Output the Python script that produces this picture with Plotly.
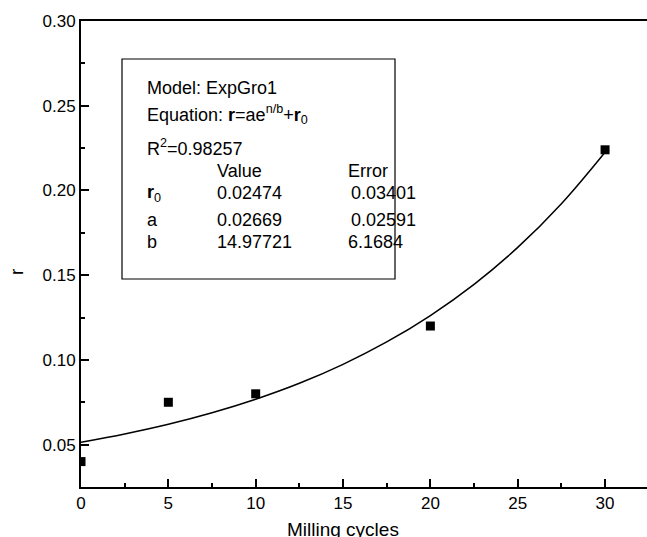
import plotly.graph_objects as go

# Measured data
cycles = [0, 5, 10, 20, 30]
r_values = [0.040, 0.075, 0.080, 0.120, 0.224]

# Fitted curve (ExpGro1)
fit_cycles = [0, 2.5, 5, 7.5, 10, 12.5, 15, 17.5, 20, 22.5, 25, 27.5, 30]
fit_r = [0.0514, 0.0563, 0.0620, 0.0688, 0.0768, 0.0862, 0.0974,
         0.1106, 0.1262, 0.1446, 0.1664, 0.1922, 0.2226]

x_ticks = [0, 5, 10, 15, 20, 25, 30]
y_ticks = [0.05, 0.10, 0.15, 0.20, 0.25, 0.30]

W, H = 647, 537
L, R, T, B = 81, 0, 21, 50
PW, PH = W - L - R, H - T - B

def px(x):
    return (x - L) / PW

def py(y):
    return (H - B - y) / PH

FONT = "Liberation Sans, Arial, Helvetica, sans-serif"

fig = go.Figure()
fig.add_trace(go.Scatter(x=fit_cycles, y=fit_r, mode="lines",
                         line=dict(color="black", width=1.5, shape="spline"),
                         showlegend=False, hoverinfo="skip"))
fig.add_trace(go.Scatter(x=cycles, y=r_values, mode="markers",
                         marker=dict(symbol="square", size=9, color="black"),
                         showlegend=False))

axis_common = dict(showline=True, linewidth=2, linecolor="black",
                   ticks="inside", ticklen=8, tickwidth=1.5, tickcolor="black",
                   showgrid=False, zeroline=False,
                   tickfont=dict(family=FONT, size=17, color="black"))

fig.update_xaxes(range=[0, 32.4], tickvals=x_ticks, mirror=True,
                 minor=dict(ticks="inside", ticklen=4, dtick=2.5, tick0=0,
                            tickwidth=1.5, tickcolor="black", showgrid=False),
                 **axis_common)
fig.update_yaxes(range=[0.025, 0.30], tickvals=y_ticks, tickformat=".2f",
                 minor=dict(ticks="inside", ticklen=4, dtick=0.025, tick0=0,
                            tickwidth=1.5, tickcolor="black", showgrid=False),
                 **axis_common)

# Info box
fig.add_shape(type="rect", xref="paper", yref="paper",
              x0=px(122), x1=px(395), y0=py(279), y1=py(59),
              line=dict(color="black", width=1.2), fillcolor="rgba(0,0,0,0)")

tf = dict(family=FONT, size=18, color="black")

def txt(x, y, s):
    fig.add_annotation(xref="paper", yref="paper", x=px(x), y=py(y), text=s,
                       showarrow=False, xanchor="left", yanchor="middle", font=tf)

txt(145, 88, "Model: ExpGro1")
txt(145, 114, "Equation: <b>r</b>=ae<sup>n/b</sup>+<b>r</b><sub>0</sub>")
txt(145, 147, "R<sup>2</sup>=0.98257")
txt(215, 171, "Value")
txt(346, 171, "Error")
txt(145, 194, "<b>r</b><sub>0</sub>")
txt(215, 193, "0.02474")
txt(349, 193, "0.03401")
txt(145, 220, "a")
txt(215, 220, "0.02669")
txt(349, 220, "0.02591")
txt(145, 242, "b")
txt(215, 242, "14.97721")
txt(346, 242, "6.1684")

# Axis titles
fig.add_annotation(xref="paper", yref="paper", x=px(343), y=py(529),
                   text="Milling cycles", showarrow=False, xanchor="center",
                   yanchor="middle", font=dict(family=FONT, size=19, color="black"))
fig.add_annotation(xref="paper", yref="paper", x=px(16), y=py(272),
                   text="r", showarrow=False, textangle=-90, xanchor="center",
                   yanchor="middle", font=dict(family=FONT, size=19, color="black"))

fig.update_layout(width=W, height=H, margin=dict(l=L, r=R, t=T, b=B),
                  paper_bgcolor="white", plot_bgcolor="white")

fig.write_html("out.html", config={"displayModeBar": False},
               post_script="document.body.style.margin='0px';"
                           "document.body.style.overflow='hidden';")
